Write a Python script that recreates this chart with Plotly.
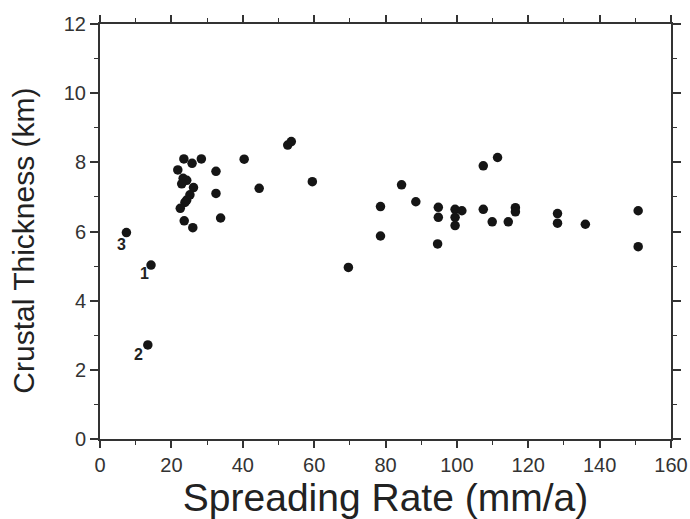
import plotly.graph_objects as go

spreading_rate = [7.4, 14.3, 13.4,
                  23.5, 25.8, 28.4, 21.8, 32.5, 23.3, 24.3, 22.9, 26.2, 32.5, 25.2, 24.3, 23.8,
                  22.5, 33.8, 23.6, 26.0, 40.4, 44.6, 52.6, 53.6, 59.5, 69.6, 78.6, 78.6,
                  84.5, 88.5, 94.8, 94.8, 94.6, 99.5, 101.4, 99.5, 99.5, 107.4, 111.4, 107.4,
                  109.9, 114.4, 116.4, 116.4, 128.2, 128.2, 136.0, 150.8, 150.8]
crustal_thickness = [5.97, 5.03, 2.72,
                     8.10, 7.97, 8.10, 7.78, 7.74, 7.54, 7.48, 7.38, 7.27, 7.10, 7.06, 6.91, 6.84,
                     6.67, 6.39, 6.31, 6.11, 8.09, 7.25, 8.50, 8.60, 7.44, 4.96, 6.72, 5.87,
                     7.35, 6.86, 6.70, 6.41, 5.64, 6.64, 6.60, 6.41, 6.17, 7.90, 8.14, 6.64,
                     6.28, 6.28, 6.69, 6.57, 6.52, 6.24, 6.21, 6.60, 5.56]

label_text = ["3", "1", "2"]
label_x = [6.0, 12.6, 10.8]
label_y = [5.61, 4.80, 2.43]

x_title = "Spreading Rate (mm/a)"
y_title = "Crustal Thickness (km)"

fig = go.Figure()
fig.add_trace(go.Scatter(
    x=spreading_rate, y=crustal_thickness, mode="markers",
    marker=dict(size=9.5, color="#151515"), showlegend=False))

for t, lx, ly in zip(label_text, label_x, label_y):
    fig.add_annotation(x=lx, y=ly, text="<b>" + t + "</b>", showarrow=False, xref="x", yref="y",
                       font=dict(family="Liberation Sans", size=16, color="#222"))

# y-axis title (placed slightly below the plot centre, as in the original)
fig.add_annotation(text=y_title, textangle=-90, showarrow=False,
                   xref="paper", yref="paper", x=-0.133, y=0.478,
                   xanchor="center", yanchor="middle",
                   font=dict(family="Liberation Sans", size=30, color="#222"))

axis_common = dict(showline=True, linecolor="#333", linewidth=2, mirror="ticks",
                   showgrid=False, zeroline=False, ticks="outside", tickcolor="#333",
                   tickwidth=1.5, automargin=False,
                   tickfont=dict(family="Liberation Sans", size=20, color="#333"))

fig.update_xaxes(range=[0, 160], dtick=20, tick0=0, ticklen=7,
                 minor=dict(dtick=10, ticks="outside", ticklen=4, tickcolor="#333", tickwidth=1.2),
                 title=dict(text=x_title, standoff=10,
                            font=dict(family="Liberation Sans", size=39, color="#222")),
                 **axis_common)
fig.update_yaxes(range=[0, 12], dtick=2, tick0=0, ticklen=8,
                 minor=dict(dtick=1, ticks="outside", ticklen=4, tickcolor="#333", tickwidth=1.2),
                 **axis_common)

fig.update_layout(width=690, height=519, margin=dict(l=100, r=19, t=24, b=80),
                  plot_bgcolor="white", paper_bgcolor="white")

fig.write_html("out.html", config={"displayModeBar": False},
               post_script="document.body.style.margin='0';document.body.style.overflow='hidden';")
